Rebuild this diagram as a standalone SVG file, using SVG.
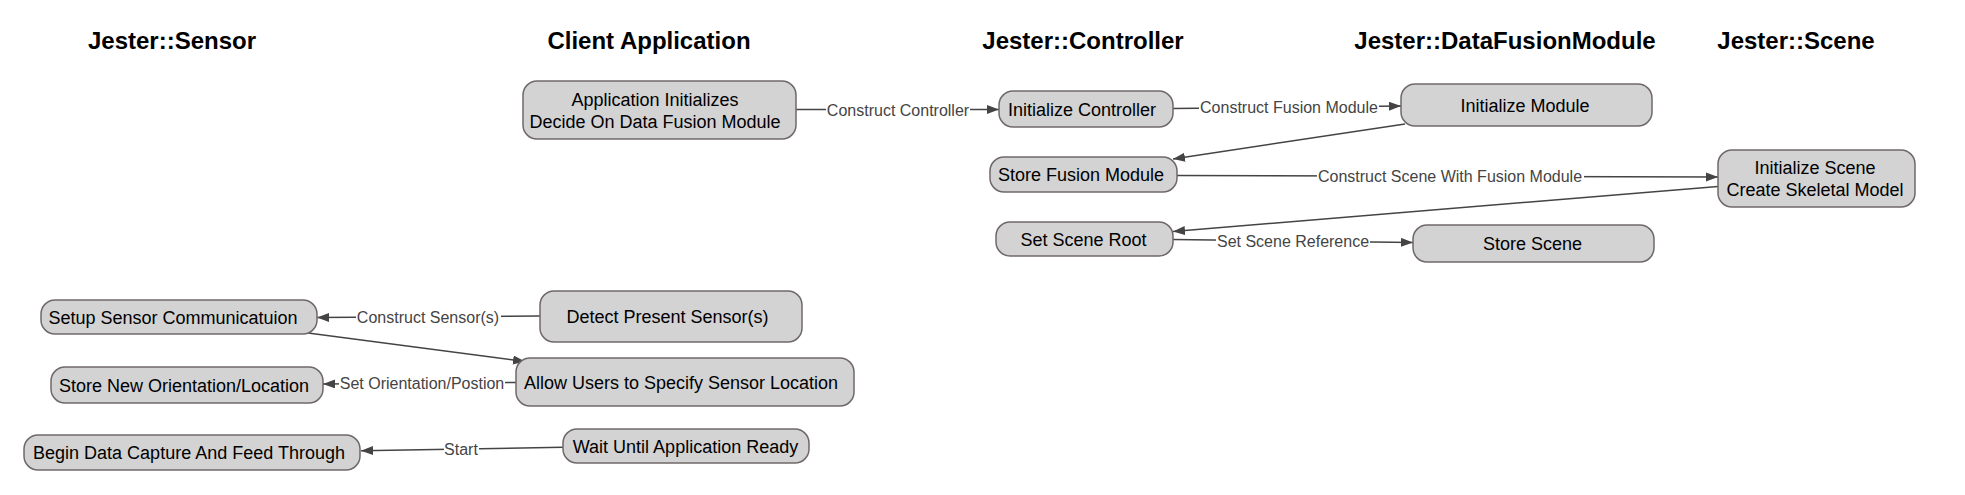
<svg xmlns="http://www.w3.org/2000/svg" width="1965" height="495" viewBox="0 0 1965 495">
<style>
.hdr{font-family:"Liberation Sans",Arial,sans-serif;font-size:24px;font-weight:bold;fill:#000;text-anchor:middle}
.node rect{fill:#d3d3d3;stroke:#706868;stroke-width:1.5}
.node text{font-family:"Liberation Sans",Arial,sans-serif;font-size:18px;fill:#000;text-anchor:middle}
.edge line{stroke:#444;stroke-width:1.5;fill:none}
.lbl rect{fill:#fff}
.lbl text{font-family:"Liberation Sans",Arial,sans-serif;font-size:16px;fill:#444;text-anchor:middle}
</style>
<defs>
<marker id="arr" markerUnits="userSpaceOnUse" markerWidth="13" markerHeight="10" refX="12" refY="4.5" orient="auto">
<path d="M0,0 L12,4.5 L0,9 z" fill="#444"/>
</marker>
</defs>
<rect width="1965" height="495" fill="#fff"/>
<g id="headers">
<text class="hdr" x="172" y="49">Jester::Sensor</text>
<text class="hdr" x="649" y="49">Client Application</text>
<text class="hdr" x="1083" y="49">Jester::Controller</text>
<text class="hdr" x="1505" y="49">Jester::DataFusionModule</text>
<text class="hdr" x="1796" y="49">Jester::Scene</text>
</g>
<g id="connectors">
<g class="edge"><line x1="796" y1="109.5" x2="999" y2="109.5" marker-end="url(#arr)"/></g>
<g class="edge"><line x1="1173" y1="108.5" x2="1401" y2="106" marker-end="url(#arr)"/></g>
<g class="edge"><line x1="1405" y1="124" x2="1173" y2="159" marker-end="url(#arr)"/></g>
<g class="edge"><line x1="1177" y1="175.5" x2="1718" y2="177" marker-end="url(#arr)"/></g>
<g class="edge"><line x1="1718" y1="186.5" x2="1173" y2="231.5" marker-end="url(#arr)"/></g>
<g class="edge"><line x1="1173" y1="239.5" x2="1413" y2="242.5" marker-end="url(#arr)"/></g>
<g class="edge"><line x1="540" y1="316" x2="317" y2="317.5" marker-end="url(#arr)"/></g>
<g class="edge"><line x1="308" y1="333" x2="525" y2="361.5" marker-end="url(#arr)"/></g>
<g class="edge"><line x1="516" y1="382.5" x2="323" y2="384" marker-end="url(#arr)"/></g>
<g class="edge"><line x1="563" y1="447.3" x2="361" y2="450.7" marker-end="url(#arr)"/></g>
<g class="lbl"><rect x="826" y="101" width="144" height="18"/><text x="898" y="115.5">Construct Controller</text></g>
<g class="lbl"><rect x="1199" y="98" width="180" height="18"/><text x="1289" y="113">Construct Fusion Module</text></g>
<g class="lbl"><rect x="1317" y="167" width="267" height="18"/><text x="1450" y="181.5">Construct Scene With Fusion Module</text></g>
<g class="lbl"><rect x="1216" y="232.5" width="154" height="18"/><text x="1293" y="247">Set Scene Reference</text></g>
<g class="lbl"><rect x="356" y="308" width="145" height="18"/><text x="428" y="322.5">Construct Sensor(s)</text></g>
<g class="lbl"><rect x="339" y="374.5" width="166" height="18"/><text x="422" y="389">Set Orientation/Postion</text></g>
<g class="lbl"><rect x="444" y="440" width="35" height="18"/><text x="461" y="454.5">Start</text></g>
</g>
<g id="n_app" class="node"><rect x="523" y="81" width="273" height="58" rx="14"/><text x="655" y="105.5">Application Initializes</text><text x="655" y="128">Decide On Data Fusion Module</text></g>
<g id="n_initctrl" class="node"><rect x="999" y="91" width="174" height="36" rx="14"/><text x="1082" y="115.5">Initialize Controller</text></g>
<g id="n_initmod" class="node"><rect x="1401" y="84" width="251" height="42" rx="14"/><text x="1525" y="111.5">Initialize Module</text></g>
<g id="n_storefm" class="node"><rect x="990" y="157" width="187" height="35" rx="14"/><text x="1081" y="181">Store Fusion Module</text></g>
<g id="n_initscene" class="node"><rect x="1718" y="150" width="197" height="57" rx="14"/><text x="1815" y="173.5">Initialize Scene</text><text x="1815" y="196">Create Skeletal Model</text></g>
<g id="n_setroot" class="node"><rect x="996" y="222" width="177" height="34" rx="14"/><text x="1083.5" y="245.5">Set Scene Root</text></g>
<g id="n_storescene" class="node"><rect x="1413" y="225" width="241" height="37" rx="14"/><text x="1532.5" y="250">Store Scene</text></g>
<g id="n_setup" class="node"><rect x="41" y="300" width="276" height="34" rx="14"/><text x="173" y="323.5">Setup Sensor Communicatuion</text></g>
<g id="n_detect" class="node"><rect x="540" y="291" width="262" height="51" rx="14"/><text x="667.5" y="323">Detect Present Sensor(s)</text></g>
<g id="n_allow" class="node"><rect x="516" y="358" width="338" height="48" rx="14"/><text x="681" y="388.5">Allow Users to Specify Sensor Location</text></g>
<g id="n_storeorient" class="node"><rect x="51" y="367" width="272" height="36" rx="14"/><text x="184" y="391.5">Store New Orientation/Location</text></g>
<g id="n_begin" class="node"><rect x="24" y="435" width="336" height="35" rx="14"/><text x="189" y="459">Begin Data Capture And Feed Through</text></g>
<g id="n_wait" class="node"><rect x="563" y="429" width="246" height="34" rx="14"/><text x="685.5" y="452.5">Wait Until Application Ready</text></g>
</svg>
